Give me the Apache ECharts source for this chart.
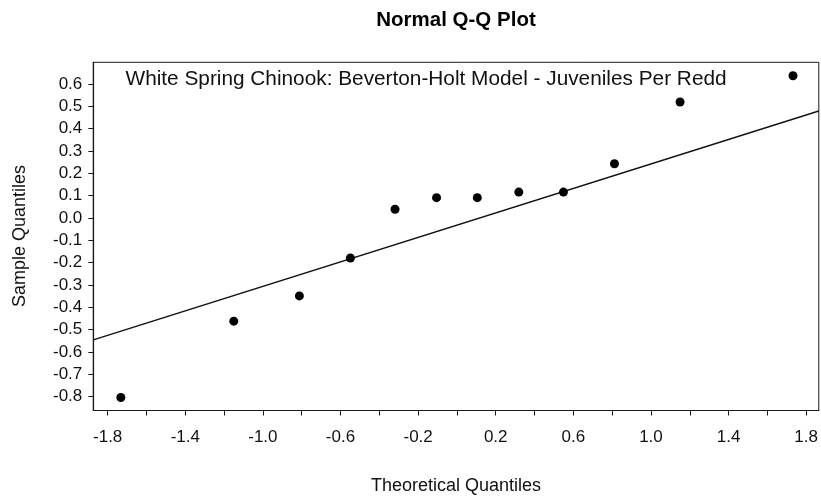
<!DOCTYPE html>
<html>
<head>
<meta charset="utf-8">
<script src="https://cdn.jsdelivr.net/npm/echarts@6/dist/echarts.min.js"></script>
<style>html,body{margin:0;padding:0;background:#fff}#c{width:821px;height:496px}</style>
</head>
<body>
<div id="c"></div>
<script>
const titleText = 'Normal Q-Q Plot';
const subtitleText = 'White Spring Chinook: Beverton-Holt Model - Juveniles Per Redd';
const xAxisTitle = 'Theoretical Quantiles';
const yAxisTitle = 'Sample Quantiles';
const theoreticalQ = [-1.732, -1.150, -0.812, -0.549, -0.319, -0.105, 0.105, 0.319, 0.549, 0.812, 1.150, 1.732];
const sampleQ = [-0.804, -0.462, -0.349, -0.179, 0.039, 0.091, 0.091, 0.116, 0.116, 0.243, 0.519, 0.637];
const refLineX = [-1.874, 1.865];
const refLineY = [-0.546, 0.479];
const xLabelValues = [-1.8, -1.4, -1.0, -0.6, -0.2, 0.2, 0.6, 1.0, 1.4, 1.8];
const xTickValues = [-1.8, -1.6, -1.4, -1.2, -1.0, -0.8, -0.6, -0.4, -0.2, 0.0, 0.2, 0.4, 0.6, 0.8, 1.0, 1.2, 1.4, 1.6, 1.8];
const yLabelValues = [-0.8, -0.7, -0.6, -0.5, -0.4, -0.3, -0.2, -0.1, 0.0, 0.1, 0.2, 0.3, 0.4, 0.5, 0.6];
const xRange = [-1.874, 1.865];
const yRange = [-0.862, 0.697];

const FONT = "'Liberation Sans', Arial, sans-serif";
const chart = echarts.init(document.getElementById('c'), null, {renderer: 'canvas'});
const pts = theoreticalQ.map((x, i) => [x, sampleQ[i]]);
const linePts = refLineX.map((x, i) => [x, refLineY[i]]);

chart.setOption({
  backgroundColor: '#fff',
  animation: false,
  grid: {left: 93.3, right: 1.7, top: 62.3, bottom: 85.5, show: true, borderColor: '#1a1a1a', borderWidth: 1, backgroundColor: 'transparent'},
  xAxis: {
    type: 'value', min: xRange[0], max: xRange[1],
    axisLine: {show: true, onZero: false, lineStyle: {color: '#1a1a1a', width: 1.2}},
    axisTick: {show: true, customValues: xTickValues, length: 5, lineStyle: {color: '#1a1a1a'}},
    axisLabel: {customValues: xLabelValues, formatter: v => v.toFixed(1), fontFamily: FONT, fontSize: 17, color: '#111', margin: 18},
    splitLine: {show: false}
  },
  yAxis: {
    type: 'value', min: yRange[0], max: yRange[1],
    axisLine: {show: true, onZero: false, lineStyle: {color: '#1a1a1a', width: 1.2}},
    axisTick: {show: true, customValues: yLabelValues, length: 5, lineStyle: {color: '#1a1a1a'}},
    axisLabel: {customValues: yLabelValues, formatter: v => v.toFixed(1), fontFamily: FONT, fontSize: 17, color: '#111', margin: 11},
    splitLine: {show: false}
  },
  series: [
    {type: 'line', data: linePts, showSymbol: false, symbol: 'none', lineStyle: {color: '#111', width: 1.4}, clip: true, z: 2},
    {type: 'scatter', data: pts, symbol: 'circle', symbolSize: 9, itemStyle: {color: '#000', opacity: 1}, z: 3}
  ],
  graphic: [
    {type: 'text', x: 456, y: 20, style: {text: titleText, fontFamily: FONT, fontWeight: 'bold', fontSize: 20.5, fill: '#000', align: 'center', verticalAlign: 'middle'}},
    {type: 'text', x: 125.5, y: 79, style: {text: subtitleText, fontFamily: FONT, fontSize: 20.8, fill: '#111', align: 'left', verticalAlign: 'middle'}, z: 10},
    {type: 'text', x: 456, y: 486, style: {text: xAxisTitle, fontFamily: FONT, fontSize: 18, fill: '#111', align: 'center', verticalAlign: 'middle'}},
    {type: 'text', x: 20, y: 236, rotation: Math.PI / 2, style: {text: yAxisTitle, fontFamily: FONT, fontSize: 18, fill: '#111', align: 'center', verticalAlign: 'middle'}}
  ]
});
</script>
</body>
</html>
